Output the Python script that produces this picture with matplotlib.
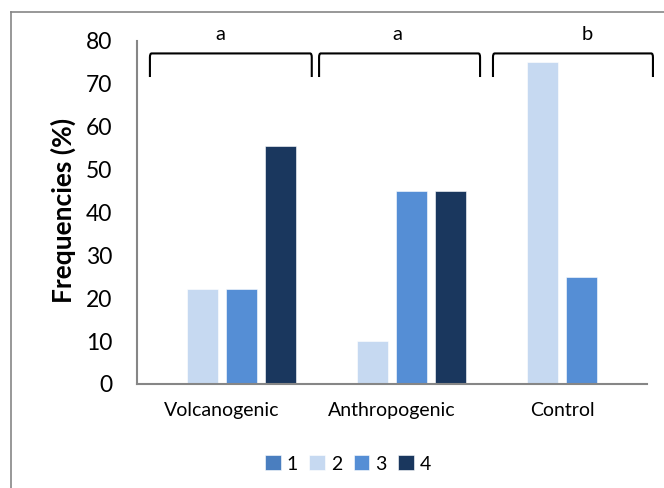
import numpy as np
import matplotlib
matplotlib.use("Agg")
import matplotlib.pyplot as plt
from matplotlib.path import Path
from matplotlib.patches import PathPatch

plt.rcParams['font.family'] = ['Lato', 'DejaVu Sans']

# == data
groups = ['Volcanogenic', 'Anthropogenic', 'Control']
series = ['1', '2', '3', '4']
s1 = [0, 0, 0]
s2 = [22.2, 10, 75]
s3 = [22.2, 45, 25]
s4 = [55.6, 45, 0]
letters = ['a', 'a', 'b']
colors = ['#4a7ebf', '#c6d9f1', '#558ed5', '#1a375e']

fig = plt.figure(figsize=(6.64, 4.88), dpi=100)
ax = fig.add_axes([137/664, 1-384/488, 510/664, 343/488])

x = np.arange(len(groups))
step = 0.229
w = 0.182
for i, vals in enumerate([s1, s2, s3, s4]):
    ax.bar(x + (i-1.5)*step, vals, w, color=colors[i], label=series[i],
           edgecolor='white', linewidth=0.4)

ax.set_xlim(-0.5, 2.5)
ax.set_ylim(0, 80)
ax.set_yticks(range(0, 81, 10))
ax.set_xticks(x)
ax.set_xticklabels(groups, fontsize=14)
ax.tick_params(axis='y', labelsize=16.5, length=0, pad=18)
ax.tick_params(axis='x', length=0, pad=13)
for s in ['top', 'right']:
    ax.spines[s].set_visible(False)
for s in ['left', 'bottom']:
    ax.spines[s].set_color('#868686')
    ax.spines[s].set_linewidth(1.5)
fig.text(63/664, 1-210/488, 'Frequencies (%)', rotation=90, ha='center', va='center',
         fontsize=19, fontweight='bold')

# brackets with letters
spans = [(-0.424, 0.528), (0.571, 1.518), (1.594, 2.535)]
lab_x = [-0.01, 1.03, 2.15]
ytop, ybot = 77.1, 71.6
r = 0.01
for (a, b), lx, let in zip(spans, lab_x, letters):
    verts = [(a, ybot), (a, ytop-0.9), (a, ytop), (a+r, ytop),
             (b-r, ytop), (b, ytop), (b, ytop-0.9), (b, ybot)]
    codes = [Path.MOVETO, Path.LINETO, Path.CURVE3, Path.CURVE3,
             Path.LINETO, Path.CURVE3, Path.CURVE3, Path.LINETO]
    ax.add_patch(PathPatch(Path(verts, codes), fill=False, lw=1.5,
                           edgecolor='black', clip_on=False))
    ax.text(lx, 79.6, let, ha='center', va='bottom', fontsize=14.5, clip_on=False)

leg = ax.legend(loc='center', bbox_to_anchor=(348/664, 1-464/488),
                bbox_transform=fig.transFigure, ncol=4, frameon=False,
                fontsize=14, handlelength=0.8, handleheight=0.8,
                handletextpad=0.3, columnspacing=0.6, borderpad=0)

# chart area frame
fig.add_artist(plt.Line2D([11/664, 11/664], [0, 1-11.7/488], color='#868686', lw=1.2))
fig.add_artist(plt.Line2D([11/664, 1], [1-11.7/488, 1-11.7/488], color='#868686', lw=1.2))

fig.savefig('out.png', dpi=100)
